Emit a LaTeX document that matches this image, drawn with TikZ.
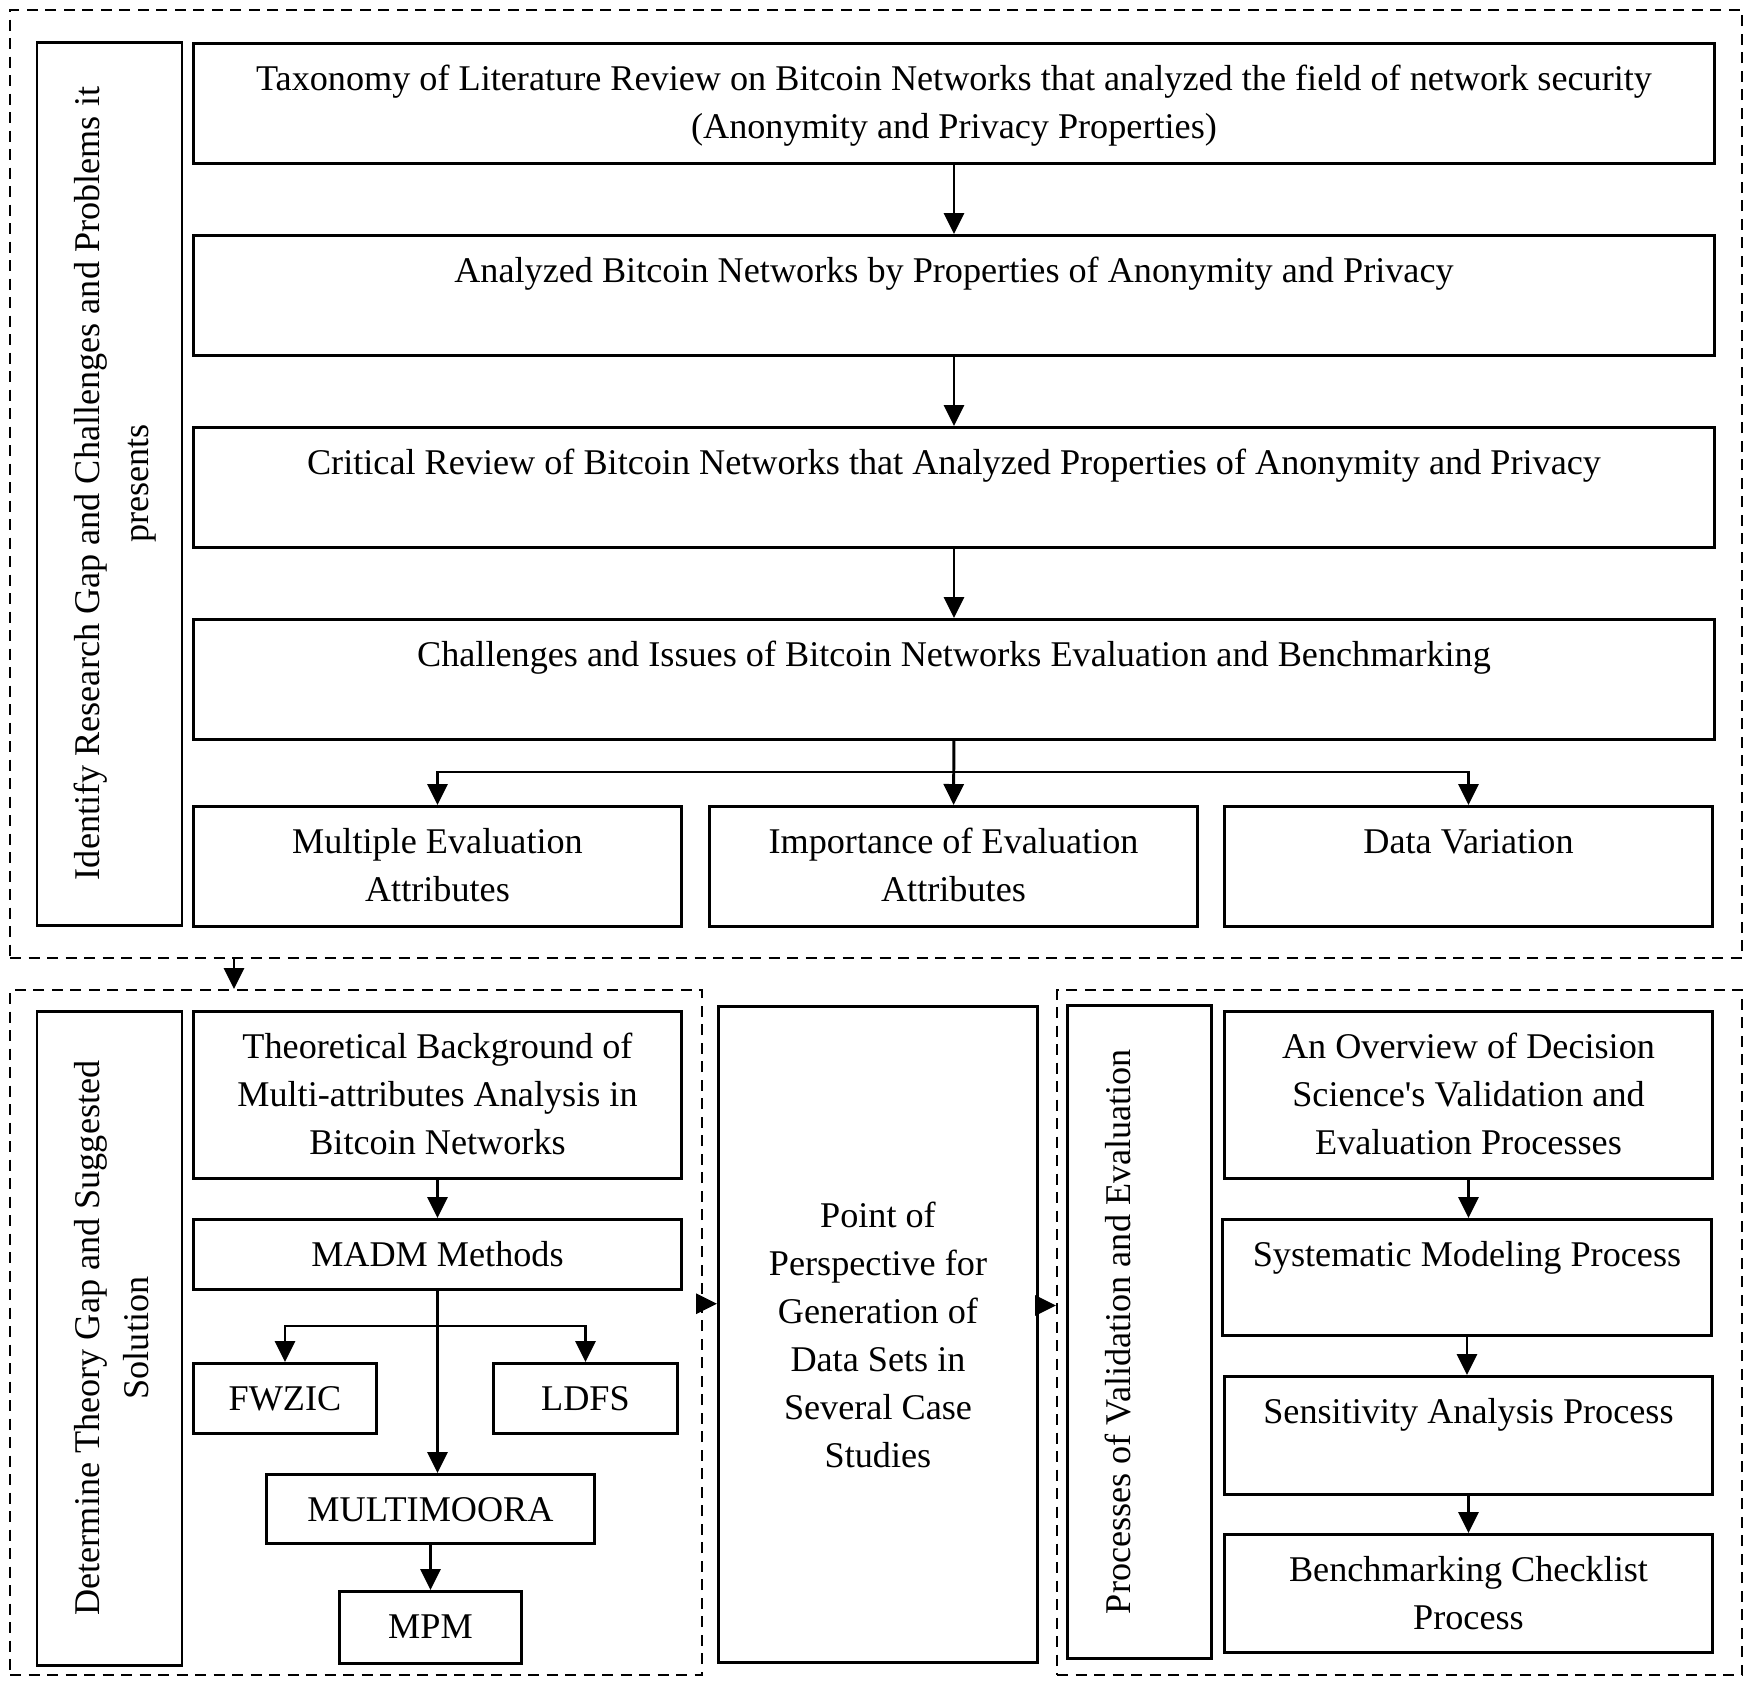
\documentclass[tikz,border=0pt]{standalone}
\usepackage{fontspec}
\setmainfont{Liberation Serif}
\usetikzlibrary{arrows.meta}
\tikzset{
  box/.style n args={3}{draw, line width=0.85pt, anchor=north west, inner xsep=2pt, inner ysep=0pt,
    minimum width=#1mm, text height=4.7mm+#3*4.8mm, text depth=#2mm-4.7mm-#3*4.8mm, align=center},
  lab/.style n args={3}{draw, line width=0.85pt, rotate=90, inner xsep=0pt, inner ysep=0pt,
    minimum width=#1mm, text height=6.3mm+#3*4.8mm, text depth=#2mm-6.3mm-#3*4.8mm, align=center},
  frame/.style 2 args={draw, dash pattern=on 1.1mm off 0.75mm, line width=0.7pt, anchor=north west,
    inner sep=0pt, minimum width=#1mm, minimum height=#2mm},
  arr/.style={line width=0.85pt, -{Triangle[length=2.1mm,width=2.0mm]}}
}
\begin{document}
\begin{tikzpicture}[x=0.1mm,y=-0.1mm,font=\fontsize{10.3}{13.66}\selectfont]
\useasboundingbox (0,0) rectangle (1750,1681);
\begin{scope}
\node[frame={173.2}{94.8}] (top) at (9,9) {};
\node[lab={88.3}{14.5}{1}] (lab1) at (109.5,483.5) {Identify Research Gap and Challenges and Problems it\\presents};
\node[box={152.1}{12.0}{1}] (b1) at (192,42) {Taxonomy of Literature Review on Bitcoin Networks that analyzed the field of network security\\(Anonymity and Privacy Properties)};
\node[box={152.1}{12.0}{0}] (b2) at (192,234) {Analyzed Bitcoin Networks by Properties of Anonymity and Privacy};
\node[box={152.1}{12.0}{0}] (b3) at (192,426) {Critical Review of Bitcoin Networks that Analyzed Properties of Anonymity and Privacy};
\node[box={152.1}{12.0}{0}] (b4) at (192,618) {Challenges and Issues of Bitcoin Networks Evaluation and Benchmarking};
\node[box={48.8}{12.0}{1}] (m1) at (192,805) {Multiple Evaluation\\Attributes};
\node[box={48.8}{12.0}{1}] (m2) at (708,805) {Importance of Evaluation\\Attributes};
\node[box={48.8}{12.0}{0}] (m3) at (1223,805) {Data Variation};
\foreach \a/\b in {b1/b2,b2/b3,b3/b4,b4/m2} \draw[arr] (\a) -- (\b);
\draw[arr] (b4.south) ++(0,31) -| (m1.north);
\draw[arr] (b4.south) ++(0,31) -| (m3.north);
\end{scope}
\begin{scope}
\node[frame={69.2}{68.5}] (left) at (9,989) {};
\node[lab={65.4}{14.5}{1}] (lab2) at (109.5,1338) {Determine Theory Gap and Suggested\\Solution};
\node[box={48.8}{16.7}{2}] (th) at (192,1010) {Theoretical Background of\\Multi-attributes Analysis in\\Bitcoin Networks};
\node[box={48.8}{7.0}{0}] (madm) at (192,1218) {MADM Methods};
\node[box={18.3}{7.0}{0}] (fw) at (192,1362) {FWZIC};
\node[box={18.4}{7.0}{0}] (ld) at (492,1362) {LDFS};
\node[box={32.8}{6.9}{0}] (mm) at (265,1473) {MULTIMOORA};
\node[box={18.2}{7.2}{0}] (mpm) at (338,1590) {MPM};
\draw[arr] (th) -- (madm);
\draw[arr] (madm.south) -- (madm.south |- mm.north);
\draw[arr] (madm.south) ++(0,35) -| (fw.north);
\draw[arr] (madm.south) ++(0,35) -| (ld.north);
\draw[arr] (mm) -- (mpm);
\end{scope}
\node[draw, line width=0.85pt, anchor=north west, inner sep=0pt, align=center, minimum width=31.9mm, minimum height=65.6mm] (mid) at (717,1005) {Point of\\Perspective for\\Generation of\\Data Sets in\\Several Case\\Studies};
\begin{scope}
\node[frame={68.5}{68.5}] (right) at (1056,989) {};
\node[lab={65.3}{14.4}{0}] (lab3) at (1139,1331.5) {Processes of Validation and Evaluation};
\node[box={48.8}{16.7}{2}] (ov) at (1223,1010) {An Overview of Decision\\Science\textquotesingle s Validation and\\Evaluation Processes};
\node[box={48.9}{11.6}{0}] (sy) at (1221,1218) {Systematic Modeling Process};
\node[box={48.8}{11.8}{0}] (se) at (1223,1375) {Sensitivity Analysis Process};
\node[box={48.8}{11.8}{1}] (bc) at (1223,1533) {Benchmarking Checklist\\Process};
\foreach \a/\b in {ov/sy,sy/se,se/bc} \draw[arr] (\a.south) -- (\a.south |- \b.north);
\end{scope}
\draw[arr] ([xshift=22.5mm]top.south west) -- ([xshift=22.5mm]left.north west);
\draw[arr] ([yshift=2.9mm]left.east) -- ([yshift=2.9mm]left.east -| mid.west);
\draw[arr] ([yshift=2.9mm]mid.east) -- ([yshift=2.9mm]mid.east -| right.west);
\end{tikzpicture}
\end{document}
